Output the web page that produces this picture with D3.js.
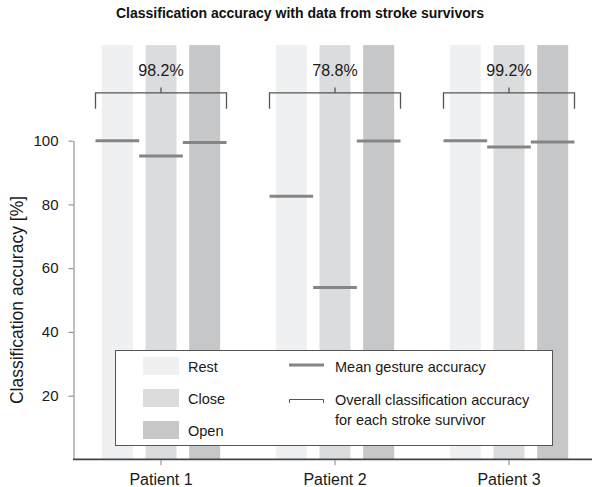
<!DOCTYPE html>
<html>
<head>
<meta charset="utf-8">
<script src="https://cdn.jsdelivr.net/npm/d3@7"></script>
<style>
  body { margin: 0; background: #fff; }
  svg { font-family: "Liberation Sans", Arial, sans-serif; }
</style>
</head>
<body>
<svg id="chart" width="592" height="487"></svg>
<script>

var patients = ["Patient 1", "Patient 2", "Patient 3"];
var gestures = ["Rest", "Close", "Open"];
var gestureColors = ["#eff0f2", "#dbdcde", "#c6c7c9"];
// mean gesture accuracy per patient, in gesture order
var meanAccuracy = [
  [100, 95.2, 99.4],
  [82.6, 53.9, 99.9],
  [100, 98.0, 99.6]
];
var overallLabels = ["98.2%", "78.8%", "99.2%"];
var yTicks = [20, 40, 60, 80, 100];

var svg = d3.select("#chart");
var font = "'Liberation Sans', Arial, sans-serif";

var x = d3.scaleBand().domain(patients).range([74, 596]);
var inner = d3.scaleBand().domain(gestures).range([-65.5, 65.5]);
var y = d3.scaleLinear().domain([0, 100]).range([459.4, 140.7]);

var barWidth = 31;
var barTop = 130;

// title
svg.append("text")
  .attr("x", 300)
  .attr("y", 18)
  .attr("text-anchor", "middle")
  .style("font-size", "14px")
  .style("font-weight", "bold")
  .style("fill", "#111")
  .text("Classification accuracy with data from stroke survivors");

// background bars
var groups = svg.selectAll("g.patient")
  .data(patients)
  .enter()
  .append("g")
  .attr("class", "patient")
  .attr("transform", d => `translate(${x(d) + x.bandwidth() / 2}, 0)`);

groups.selectAll("rect.bar")
  .data(gestures)
  .enter()
  .append("rect")
  .attr("class", "bar")
  .attr("x", d => inner(d) + (inner.bandwidth() - barWidth) / 2)
  .attr("y", y(barTop))
  .attr("width", barWidth)
  .attr("height", y(0) - y(barTop))
  .style("fill", (d, i) => gestureColors[i]);

// mean lines
groups.each(function (p, pi) {
  d3.select(this).selectAll("line.mean")
    .data(meanAccuracy[pi])
    .enter()
    .append("line")
    .attr("class", "mean")
    .attr("x1", (d, i) => inner(gestures[i]))
    .attr("x2", (d, i) => inner(gestures[i]) + inner.bandwidth())
    .attr("y1", d => y(d))
    .attr("y2", d => y(d))
    .style("stroke", "#858585")
    .style("stroke-width", 3);
});

// brackets with overall accuracy
var bY = y(115), bEnd = y(110);
var left = inner(gestures[0]), right = inner(gestures[2]) + inner.bandwidth();
groups.append("path")
  .attr("d", `M${left},${bEnd}V${bY}H${right}V${bEnd}M0,${bY}V${bY - 5.5}`)
  .style("fill", "none")
  .style("stroke", "#555")
  .style("stroke-width", 1.3);

groups.append("text")
  .attr("x", 0)
  .attr("y", bY - 17)
  .attr("text-anchor", "middle")
  .style("font-size", "16px")
  .style("fill", "#1a1a1a")
  .text((d, i) => overallLabels[i]);

// y axis
var yAxis = svg.append("g")
  .attr("transform", "translate(73.5,0)")
  .call(d3.axisLeft(y).tickValues(yTicks).tickSize(5).tickSizeOuter(0).tickPadding(10));
yAxis.select(".domain").style("stroke", "#808080");
yAxis.selectAll(".tick line").style("stroke", "#808080");
yAxis.selectAll(".tick text")
  .style("font-size", "15px")
  .style("fill", "#1a1a1a")
  .style("font-family", font);

svg.append("text")
  .attr("transform", "translate(23,300) rotate(-90)")
  .attr("text-anchor", "middle")
  .style("font-size", "17.5px")
  .style("fill", "#1a1a1a")
  .text("Classification accuracy [%]");

// x axis
svg.append("line")
  .attr("x1", 73)
  .attr("x2", 592)
  .attr("y1", y(0))
  .attr("y2", y(0))
  .style("stroke", "#444")
  .style("stroke-width", 1.6);

var xAxis = svg.append("g")
  .attr("transform", `translate(0,${y(0) + 0.8})`)
  .call(d3.axisBottom(x).tickSize(5).tickSizeOuter(0).tickPadding(8));
xAxis.select(".domain").remove();
xAxis.selectAll(".tick line").style("stroke", "#808080");
xAxis.selectAll(".tick text")
  .style("font-size", "16px")
  .style("fill", "#1a1a1a")
  .style("font-family", font);

// legend
var legend = svg.append("g").attr("class", "legend");
legend.append("rect")
  .attr("x", 115.5)
  .attr("y", 350.5)
  .attr("width", 437)
  .attr("height", 95)
  .style("fill", "#fff")
  .style("stroke", "#555")
  .style("stroke-width", 1);

legend.selectAll("rect.swatch")
  .data(gestures)
  .enter()
  .append("rect")
  .attr("class", "swatch")
  .attr("x", 143)
  .attr("y", (d, i) => 357 + i * 32)
  .attr("width", 36)
  .attr("height", 18)
  .style("fill", (d, i) => gestureColors[i]);

legend.selectAll("text.glabel")
  .data(gestures)
  .enter()
  .append("text")
  .attr("class", "glabel")
  .attr("x", 188)
  .attr("y", (d, i) => 372 + i * 32)
  .style("font-size", "14.5px")
  .style("fill", "#1a1a1a")
  .text(d => d);

legend.append("line")
  .attr("x1", 289)
  .attr("x2", 324)
  .attr("y1", 365)
  .attr("y2", 365)
  .style("stroke", "#858585")
  .style("stroke-width", 3);

legend.append("text")
  .attr("x", 335)
  .attr("y", 372)
  .style("font-size", "14.5px")
  .style("fill", "#1a1a1a")
  .text("Mean gesture accuracy");

legend.append("path")
  .attr("d", "M289.5,403V399.5H323.5V403")
  .style("fill", "none")
  .style("stroke", "#555")
  .style("stroke-width", 1);

legend.append("text")
  .attr("x", 335)
  .attr("y", 405)
  .style("font-size", "14.5px")
  .style("fill", "#1a1a1a")
  .text("Overall classification accuracy");

legend.append("text")
  .attr("x", 335)
  .attr("y", 425)
  .style("font-size", "14.5px")
  .style("fill", "#1a1a1a")
  .text("for each stroke survivor");

</script>
</body>
</html>
